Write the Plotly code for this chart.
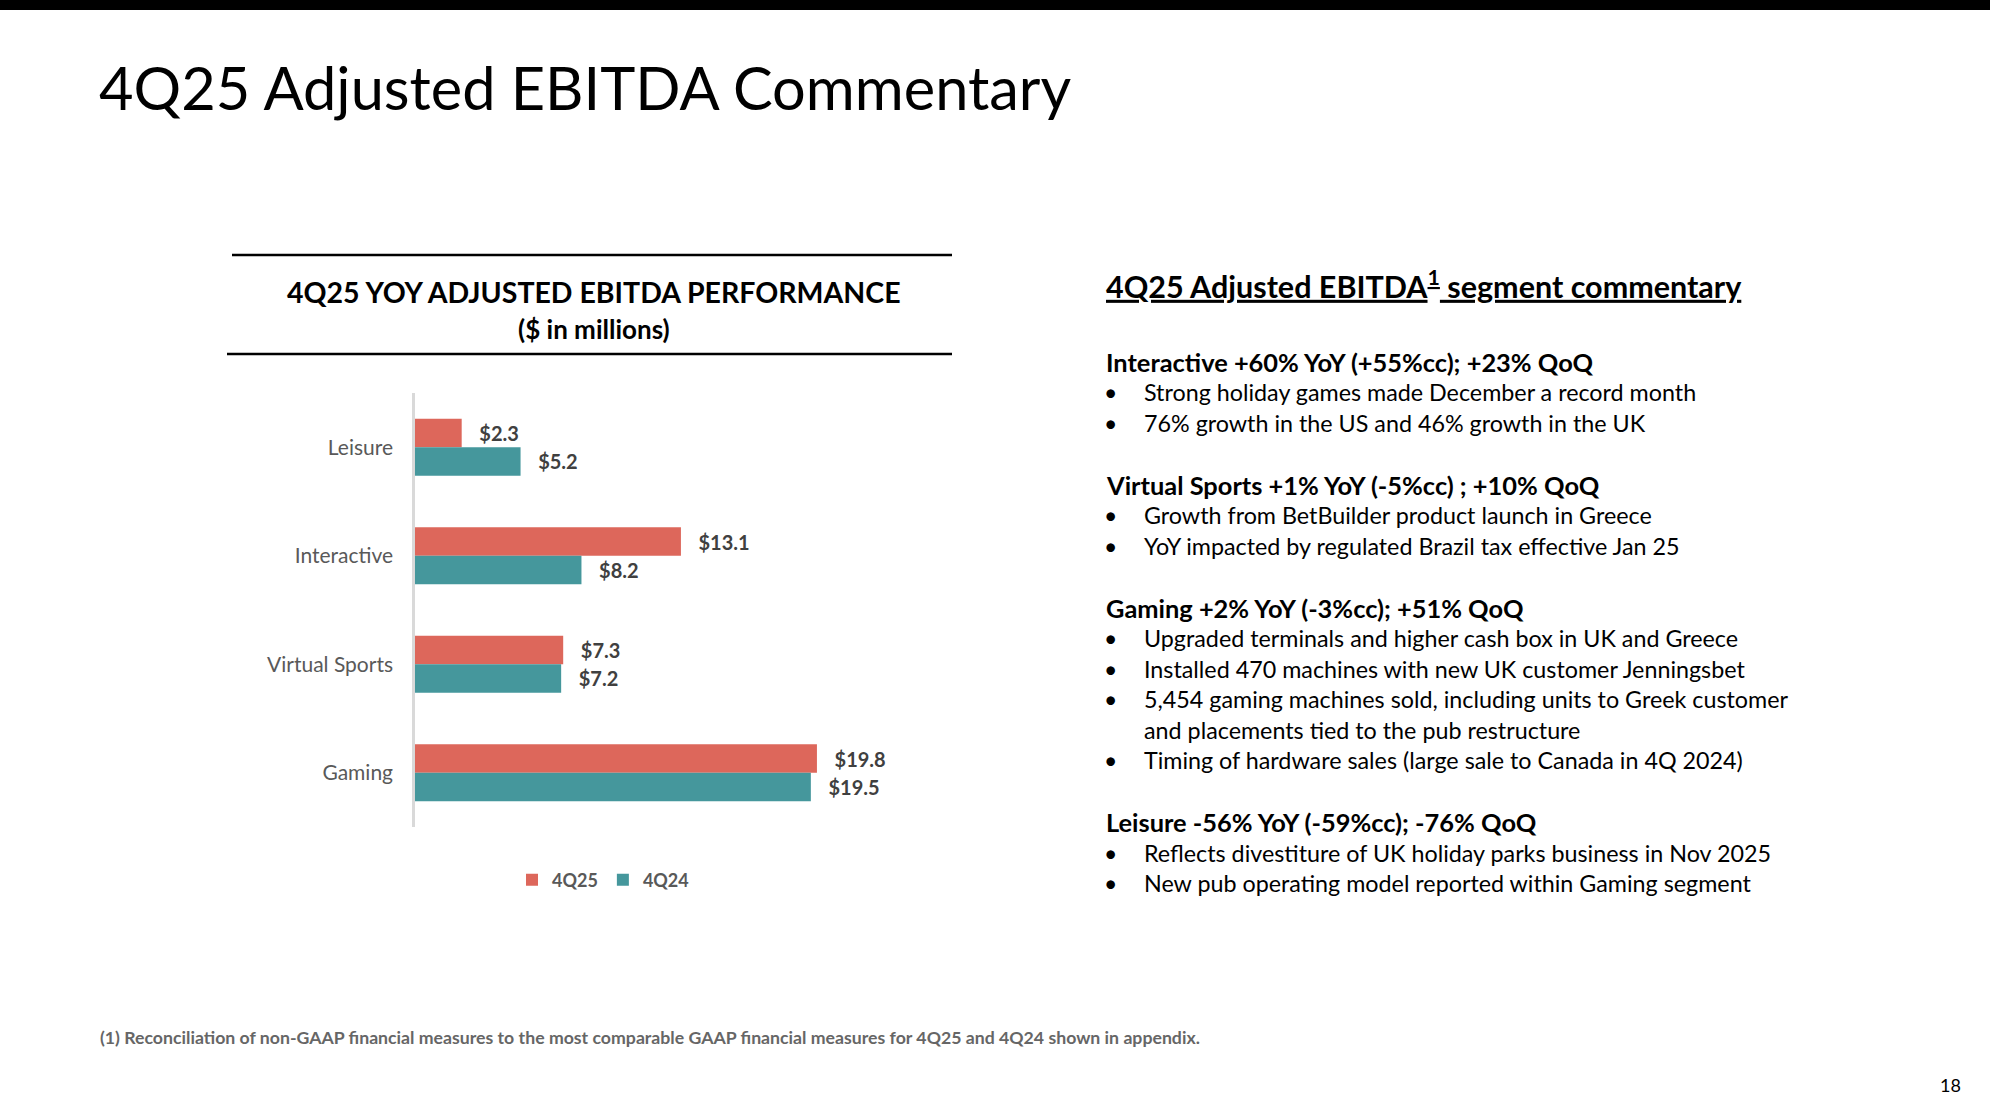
import plotly.graph_objects as go

W, H = 1990, 1120

# ---------------- data ----------------
categories = ["Leisure", "Interactive", "Virtual Sports", "Gaming"]
series_names = ["4Q25", "4Q24"]
values_4q25 = [2.3, 13.1, 7.3, 19.8]
values_4q24 = [5.2, 8.2, 7.2, 19.5]
bar_colors = ["#DD675B", "#45979C"]

page_title = "4Q25 Adjusted EBITDA Commentary"
chart_title = "4Q25 YOY ADJUSTED EBITDA PERFORMANCE"
chart_subtitle = "($ in millions)"
commentary_heading = "4Q25 Adjusted EBITDA<sup>1</sup> segment commentary"
sections = [
    ("Interactive +60% YoY (+55%cc); +23% QoQ",
     [["Strong holiday games made December a record month"],
      ["76% growth in the US and 46% growth in the UK"]]),
    ("Virtual Sports +1% YoY (-5%cc) ; +10% QoQ",
     [["Growth from BetBuilder product launch in Greece"],
      ["YoY impacted by regulated Brazil tax effective Jan 25"]]),
    ("Gaming +2% YoY (-3%cc); +51% QoQ",
     [["Upgraded terminals and higher cash box in UK and Greece"],
      ["Installed 470 machines with new UK customer Jenningsbet"],
      ["5,454 gaming machines sold, including units to Greek customer",
       "and placements tied to the pub restructure"],
      ["Timing of hardware sales (large sale to Canada in 4Q 2024)"]]),
    ("Leisure -56% YoY (-59%cc); -76% QoQ",
     [["Reflects divestiture of UK holiday parks business in Nov 2025"],
      ["New pub operating model reported within Gaming segment"]]),
]
footnote = ("(1) Reconciliation of non-GAAP financial measures to the most comparable "
            "GAAP financial measures for 4Q25 and 4Q24 shown in appendix.")
page_number = "18"

FONT = "Lato"


def px(x):
    return x / W


def py(y):
    return 1 - y / H


fig = go.Figure()
for name, vals, col in zip(series_names, [values_4q25, values_4q24], bar_colors):
    fig.add_trace(go.Bar(
        name=name, y=categories, x=vals, orientation="h",
        marker=dict(color=col, line=dict(width=0)),
        text=["\u00a0\u00a0\u00a0$" + f"{v:.1f}" for v in vals],
        textposition="outside", cliponaxis=False, constraintext="none",
        textfont=dict(family=FONT, size=20, color="#404040", weight="bold"),
        hoverinfo="skip",
    ))

annotations = []
# page title
annotations.append(dict(text=page_title, x=px(97), y=py(87), xanchor="left", yanchor="middle",
                        font=dict(family=FONT, size=59.5, color="#000000")))
# chart title
annotations.append(dict(text="<b>" + chart_title + "</b>", x=px(594), y=py(292), xanchor="center",
                        yanchor="middle", font=dict(family=FONT, size=28.5, color="#000000")))
annotations.append(dict(text="<b>" + chart_subtitle + "</b>", x=px(594), y=py(329), xanchor="center",
                        yanchor="middle", font=dict(family=FONT, size=26, color="#000000")))
# commentary heading
annotations.append(dict(text="<b><u>" + commentary_heading + "</u></b>", x=px(1104), y=py(284),
                        xanchor="left", yanchor="middle",
                        font=dict(family=FONT, size=30.5, color="#000000")))
# commentary body
y = 361.7
pitch = 30.45
for hi, (head, bullets) in enumerate(sections):
    if hi > 0:
        y += pitch + 31.7
    annotations.append(dict(text="<b>" + head + "</b>", x=px(1104), y=py(y), xanchor="left",
                            yanchor="middle", font=dict(family=FONT, size=25.4, color="#000000")))
    for lines in bullets:
        for li, line in enumerate(lines):
            y += pitch
            if li == 0:
                annotations.append(dict(text="•", x=px(1102), y=py(y), xanchor="left", yanchor="middle",
                                        font=dict(family=FONT, size=23, color="#000000")))
            annotations.append(dict(text=line, x=px(1142), y=py(y), xanchor="left", yanchor="middle",
                                    font=dict(family=FONT, size=23.3, color="#000000")))
# footnote & page number
annotations.append(dict(text="<b>" + footnote + "</b>", x=px(98), y=py(1037), xanchor="left",
                        yanchor="middle", font=dict(family=FONT, size=17.7, color="#666666")))
annotations.append(dict(text=page_number, x=px(1963), y=py(1085), xanchor="right", yanchor="middle",
                        font=dict(family=FONT, size=18, color="#000000")))
for a in annotations:
    a.update(xref="paper", yref="paper", showarrow=False)

shapes = [
    dict(type="rect", xref="paper", yref="paper", x0=0, x1=1, y0=py(10), y1=1,
         fillcolor="#000000", line=dict(width=0), layer="above"),
    dict(type="line", xref="paper", yref="paper", x0=px(232), x1=px(952), y0=py(255), y1=py(255),
         line=dict(color="#000000", width=2.5)),
    dict(type="line", xref="paper", yref="paper", x0=px(227), x1=px(952), y0=py(354), y1=py(354),
         line=dict(color="#000000", width=2.5)),
]

fig.update_layout(
    width=W, height=H,
    margin=dict(l=0, r=0, t=0, b=0),
    paper_bgcolor="#FFFFFF", plot_bgcolor="#FFFFFF",
    barmode="group", bargap=0.475, bargroupgap=0,
    showlegend=True,
    legend=dict(orientation="h", x=px(603), y=py(880), xanchor="center", yanchor="middle",
                font=dict(family=FONT, size=18, color="#595959", weight="bold"),
                itemsizing="constant", bgcolor="rgba(0,0,0,0)"),
    xaxis=dict(domain=[px(415), px(415) + 25 * 20.3 / W], range=[0, 25], visible=False,
               showgrid=False, zeroline=False, fixedrange=True),
    yaxis=dict(domain=[py(827), py(393)], range=[3.5, -0.5], type="category",
               categoryorder="array", categoryarray=categories,
               showline=True, linecolor="#D9D9D9", linewidth=2.5, showgrid=False, zeroline=False,
               ticks="", ticklabelstandoff=15, automargin=False,
               tickfont=dict(family=FONT, size=21, color="#595959")),
    annotations=annotations,
    shapes=shapes,
    font=dict(family=FONT),
)

fig.write_html("out.html", config={"displayModeBar": False},
               post_script="document.body.style.margin='0';document.body.style.overflow='hidden';")
